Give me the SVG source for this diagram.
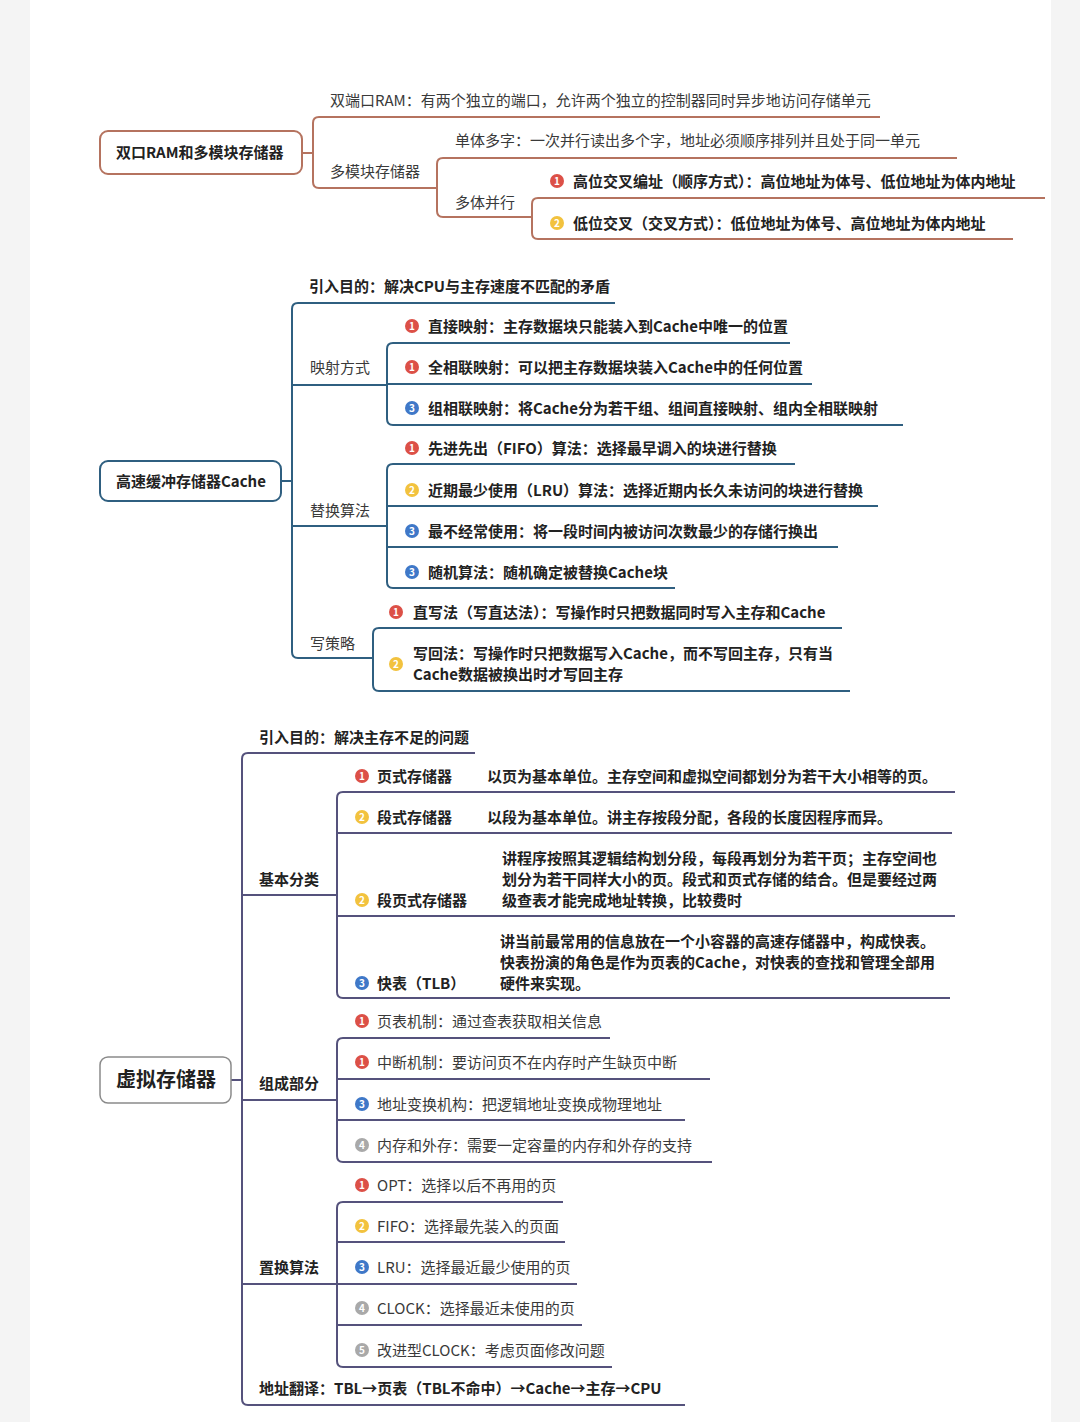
<svg xmlns="http://www.w3.org/2000/svg" width="1080" height="1422" viewBox="0 0 1080 1422">
<style>
text{font-family:"Noto Sans CJK SC","Noto Sans",sans-serif;font-size:15px;fill:#222}
.b{font-weight:bold}
.n{fill:#3a3a3a}
.big{font-size:20px;font-weight:bold}
.c1{fill:none;stroke:#b5735f;stroke-width:2}
.c2{fill:none;stroke:#2f5f80;stroke-width:2}
.c3{fill:none;stroke:#55527c;stroke-width:2}
.box1{fill:#fff;stroke:#b5735f;stroke-width:2}
.box2{fill:#fff;stroke:#2f5f80;stroke-width:2}
.box3{fill:#fff;stroke:#8a8a8a;stroke-width:1.5}
.i1{fill:#dc5047}.i2{fill:#f2c23e}.i3{fill:#3f78c8}.i4{fill:#a9a9a9}
.num{font-size:10px;font-weight:bold;fill:#fff;text-anchor:middle}
</style>
<defs>
<g id="ic1"><circle r="7" class="i1"/><text y="3.6" class="num">1</text></g>
<g id="ic2"><circle r="7" class="i2"/><text y="3.6" class="num">2</text></g>
<g id="ic3"><circle r="7" class="i3"/><text y="3.6" class="num">3</text></g>
<g id="ic4"><circle r="7" class="i4"/><text y="3.6" class="num">4</text></g>
<g id="ic5"><circle r="7" class="i4"/><text y="3.6" class="num">5</text></g>
</defs>
<rect width="1080" height="1422" fill="#f4f4f4"/>
<rect x="30" y="0" width="1021" height="1422" fill="#fff"/>

<g id="connectors">
<path class="c1" d="M302 153 H313"/>
<path class="c1" d="M880 117 H319 Q313 117 313 123 V182 Q313 188 319 188 H437"/>
<path class="c1" d="M957 158 H443 Q437 158 437 164 V211 Q437 217 443 217 H532"/>
<path class="c1" d="M1045 198 H538 Q532 198 532 204 V233 Q532 239 538 239 H1013"/>

<path class="c2" d="M281 481 H292"/>
<path class="c2" d="M615 303 H298 Q292 303 292 309 V652 Q292 658 298 658 H373"/>
<path class="c2" d="M292 385 H387 M292 526 H387"/>
<path class="c2" d="M790 343 H393 Q387 343 387 349 V419 Q387 425 393 425 H903 M387 384 H812"/>
<path class="c2" d="M795 464 H393 Q387 464 387 470 V582 Q387 588 393 588 H675 M387 506 H878 M387 547 H838"/>
<path class="c2" d="M842 628 H379 Q373 628 373 634 V685 Q373 691 379 691 H850"/>

<path class="c3" d="M231 1080 H242"/>
<path class="c3" d="M475 753 H248 Q242 753 242 759 V1399 Q242 1405 248 1405 H685"/>
<path class="c3" d="M242 895 H337 M242 1100 H337 M242 1284 H337"/>
<path class="c3" d="M955 792 H343 Q337 792 337 798 V992 Q337 998 343 998 H950 M337 833 H952 M337 916 H955"/>
<path class="c3" d="M610 1038 H343 Q337 1038 337 1044 V1156 Q337 1162 343 1162 H712 M337 1079 H710 M337 1120 H685"/>
<path class="c3" d="M563 1202 H343 Q337 1202 337 1208 V1361 Q337 1367 343 1367 H612 M337 1242 H565 M337 1284 H577 M337 1325 H582"/>
</g>

<!-- Section 1 -->
<g id="n-dualram"><rect class="box1" x="100" y="131" width="202" height="43" rx="8"/><text class="b" x="116" y="158">双口RAM和多模块存储器</text></g>
<g id="n-dualport"><text class="n" x="330" y="106">双端口RAM：有两个独立的端口，允许两个独立的控制器同时异步地访问存储单元</text></g>
<g id="n-multimodule"><text class="n" x="330" y="177">多模块存储器</text></g>
<g id="n-single"><text class="n" x="455" y="146">单体多字：一次并行读出多个字，地址必须顺序排列并且处于同一单元</text></g>
<g id="n-multibody"><text class="n" x="455" y="208">多体并行</text></g>
<g id="n-high"><use href="#ic1" x="557" y="181"/><text class="b" x="573" y="187">高位交叉编址（顺序方式）：高位地址为体号、低位地址为体内地址</text></g>
<g id="n-low"><use href="#ic2" x="557" y="223"/><text class="b" x="573" y="229">低位交叉（交叉方式）：低位地址为体号、高位地址为体内地址</text></g>

<!-- Section 2 -->
<g id="n-cache"><rect class="box2" x="100" y="461" width="181" height="40" rx="8"/><text class="b" x="116" y="487">高速缓冲存储器Cache</text></g>
<g id="n-purpose2"><text class="b" x="309" y="292">引入目的：解决CPU与主存速度不匹配的矛盾</text></g>
<g id="n-mapping"><text class="n" x="310" y="373">映射方式</text></g>
<g id="n-direct"><use href="#ic1" x="412" y="326"/><text class="b" x="428" y="332">直接映射：主存数据块只能装入到Cache中唯一的位置</text></g>
<g id="n-full"><use href="#ic1" x="412" y="367"/><text class="b" x="428" y="373">全相联映射：可以把主存数据块装入Cache中的任何位置</text></g>
<g id="n-set"><use href="#ic3" x="412" y="408"/><text class="b" x="428" y="414">组相联映射：将Cache分为若干组、组间直接映射、组内全相联映射</text></g>
<g id="n-replace2"><text class="n" x="310" y="516">替换算法</text></g>
<g id="n-fifo2"><use href="#ic1" x="412" y="448"/><text class="b" x="428" y="454">先进先出（FIFO）算法：选择最早调入的块进行替换</text></g>
<g id="n-lru2"><use href="#ic2" x="412" y="490"/><text class="b" x="428" y="496">近期最少使用（LRU）算法：选择近期内长久未访问的块进行替换</text></g>
<g id="n-lfu2"><use href="#ic3" x="412" y="531"/><text class="b" x="428" y="537">最不经常使用：将一段时间内被访问次数最少的存储行换出</text></g>
<g id="n-rand2"><use href="#ic3" x="412" y="572"/><text class="b" x="428" y="578">随机算法：随机确定被替换Cache块</text></g>
<g id="n-write"><text class="n" x="310" y="649">写策略</text></g>
<g id="n-wt"><use href="#ic1" x="396" y="612"/><text class="b" x="413" y="618">直写法（写直达法）：写操作时只把数据同时写入主存和Cache</text></g>
<g id="n-wb"><use href="#ic2" x="396" y="664"/><text class="b" x="413" y="659">写回法：写操作时只把数据写入Cache，而不写回主存，只有当</text><text class="b" x="413" y="680">Cache数据被换出时才写回主存</text></g>

<!-- Section 3 -->
<g id="n-virtual"><rect class="box3" x="100" y="1057" width="131" height="46" rx="8"/><text class="big" x="116" y="1087">虚拟存储器</text></g>
<g id="n-purpose3"><text class="b" x="259" y="743">引入目的：解决主存不足的问题</text></g>
<g id="n-basic"><text class="b" x="259" y="885">基本分类</text></g>
<g id="n-page"><use href="#ic1" x="362" y="776"/><text class="b" x="377" y="782">页式存储器</text><text class="b" x="487" y="782">以页为基本单位。主存空间和虚拟空间都划分为若干大小相等的页。</text></g>
<g id="n-seg"><use href="#ic2" x="362" y="817"/><text class="b" x="377" y="823">段式存储器</text><text class="b" x="487" y="823">以段为基本单位。讲主存按段分配，各段的长度因程序而异。</text></g>
<g id="n-segpage"><use href="#ic2" x="362" y="900"/><text class="b" x="377" y="906">段页式存储器</text><text class="b" x="502" y="864">讲程序按照其逻辑结构划分段，每段再划分为若干页；主存空间也</text><text class="b" x="502" y="885">划分为若干同样大小的页。段式和页式存储的结合。但是要经过两</text><text class="b" x="502" y="906">级查表才能完成地址转换，比较费时</text></g>
<g id="n-tlb"><use href="#ic3" x="362" y="983"/><text class="b" x="377" y="989">快表（TLB）</text><text class="b" x="500" y="947">讲当前最常用的信息放在一个小容器的高速存储器中，构成快表。</text><text class="b" x="500" y="968">快表扮演的角色是作为页表的Cache，对快表的查找和管理全部用</text><text class="b" x="500" y="989">硬件来实现。</text></g>
<g id="n-parts"><text class="b" x="259" y="1089">组成部分</text></g>
<g id="n-pt"><use href="#ic1" x="362" y="1021"/><text class="n" x="377" y="1027">页表机制：通过查表获取相关信息</text></g>
<g id="n-int"><use href="#ic1" x="362" y="1062"/><text class="n" x="377" y="1068">中断机制：要访问页不在内存时产生缺页中断</text></g>
<g id="n-addr"><use href="#ic3" x="362" y="1104"/><text class="n" x="377" y="1110">地址变换机构：把逻辑地址变换成物理地址</text></g>
<g id="n-mem"><use href="#ic4" x="362" y="1145"/><text class="n" x="377" y="1151">内存和外存：需要一定容量的内存和外存的支持</text></g>
<g id="n-replace3"><text class="b" x="259" y="1273">置换算法</text></g>
<g id="n-opt"><use href="#ic1" x="362" y="1185"/><text class="n" x="377" y="1191">OPT：选择以后不再用的页</text></g>
<g id="n-fifo3"><use href="#ic2" x="362" y="1226"/><text class="n" x="377" y="1232">FIFO：选择最先装入的页面</text></g>
<g id="n-lru3"><use href="#ic3" x="362" y="1267"/><text class="n" x="377" y="1273">LRU：选择最近最少使用的页</text></g>
<g id="n-clock"><use href="#ic4" x="362" y="1308"/><text class="n" x="377" y="1314">CLOCK：选择最近未使用的页</text></g>
<g id="n-clock2"><use href="#ic5" x="362" y="1350"/><text class="n" x="377" y="1356">改进型CLOCK：考虑页面修改问题</text></g>
<g id="n-translate"><text class="b" x="259" y="1394">地址翻译：TBL→页表（TBL不命中）→Cache→主存→CPU</text></g>
</svg>
